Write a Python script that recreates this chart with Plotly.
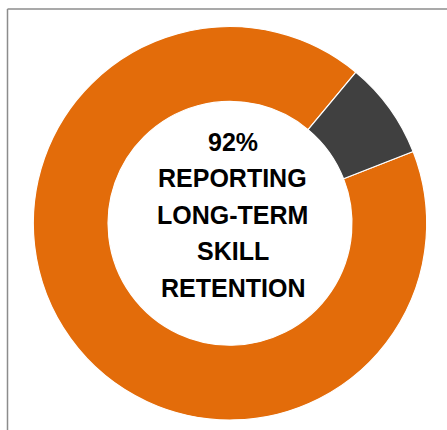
import plotly.graph_objects as go

labels = ["Reporting long-term skill retention", "Not reporting"]
values = [92, 8]
colors = ["#E36C0A", "#404040"]
center_lines = ["92%", "REPORTING", "LONG-TERM", "SKILL", "RETENTION"]

W, H = 447, 430
cx, cy, r = 230.0, 223.3, 196.7

fig = go.Figure()
fig.add_trace(go.Pie(
    labels=labels, values=values,
    marker=dict(colors=colors, line=dict(color="white", width=1.2)),
    hole=0.62, sort=False, direction="clockwise", rotation=68.6,
    textinfo="none", hoverinfo="label+percent", showlegend=False,
    domain=dict(x=[(cx - r) / W, (cx + r) / W], y=[(H - cy - r) / H, (H - cy + r) / H]),
))

line_y = [141.5, 178, 214.5, 251, 287.5]
for txt, yp in zip(center_lines, line_y):
    fig.add_annotation(
        text="<b>" + txt + "</b>", x=232.5 / W, y=1 - yp / H, xref="paper", yref="paper",
        xanchor="center", yanchor="middle", showarrow=False,
        font=dict(family="Liberation Sans, Arial, sans-serif", size=25, color="#000000"),
    )

# frame (top and left edges visible)
fig.add_shape(type="line", xref="paper", yref="paper", x0=7.5 / W, x1=1.05, y0=1 - 9 / H, y1=1 - 9 / H,
              line=dict(color="#8c8c8c", width=1.5))
fig.add_shape(type="line", xref="paper", yref="paper", x0=7.5 / W, x1=7.5 / W, y0=-0.05, y1=1 - 9 / H,
              line=dict(color="#8c8c8c", width=1.5))

fig.update_layout(
    width=W, height=H, margin=dict(l=0, r=0, t=0, b=0),
    paper_bgcolor="white", plot_bgcolor="white",
)
fig.write_html("out.html")
